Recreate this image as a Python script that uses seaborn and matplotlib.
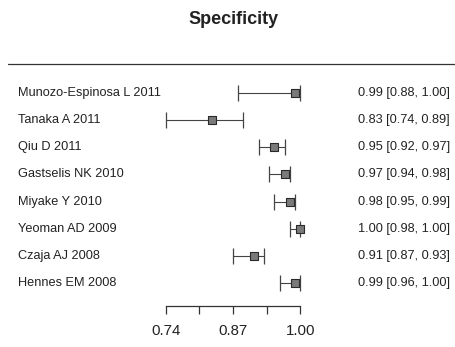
import matplotlib
matplotlib.use("Agg")
import matplotlib.pyplot as plt
import seaborn as sns
import pandas as pd
from matplotlib.lines import Line2D
import matplotlib.transforms as mtransforms

studies = ["Munozo-Espinosa L 2011", "Tanaka A 2011", "Qiu D 2011", "Gastselis NK 2010",
           "Miyake Y 2010", "Yeoman AD 2009", "Czaja AJ 2008", "Hennes EM 2008"]
spec = [0.99, 0.83, 0.95, 0.97, 0.98, 1.00, 0.91, 0.99]
lower = [0.88, 0.74, 0.92, 0.94, 0.95, 0.98, 0.87, 0.96]
upper = [1.00, 0.89, 0.97, 0.98, 0.99, 1.00, 0.93, 1.00]
tick_values = [0.74, 0.805, 0.87, 0.935, 1.00]
tick_labels = ["0.74", "", "0.87", "", "1.00"]
title = "Specificity"

sns.set_theme(style="white")
plt.rcParams["font.family"] = ["Liberation Sans", "DejaVu Sans"]

W, H = 455, 347
fig = plt.figure(figsize=(W / 100, H / 100), dpi=100)
fig.patch.set_facecolor("white")

left_px, right_px = 165.7, 300.3
top_px, bot_px = 64, 306
ax = fig.add_axes([left_px / W, 1 - bot_px / H, (right_px - left_px) / W, (bot_px - top_px) / H])
ax.set_facecolor("none")

df = pd.DataFrame({"study": studies, "spec": spec, "lower": lower, "upper": upper})
df["row"] = range(len(df))

ink = "#333333"
ax.errorbar(df["spec"], df["row"],
            xerr=[df["spec"] - df["lower"], df["upper"] - df["spec"]],
            fmt="none", ecolor="#444444", elinewidth=0.8, capsize=5.8, capthick=0.9,
            clip_on=False, zorder=2)
sns.scatterplot(data=df, x="spec", y="row", marker="s", s=26, color="#7a7a7a",
                edgecolor="#2a2a2a", linewidth=0.8, ax=ax, zorder=3, clip_on=False, legend=False)

spacing = 27.14
ax.set_ylim((bot_px - 93) / spacing, (top_px - 93) / spacing)
ax.set_xlim(0.74, 1.00)
ax.set_xticks(tick_values)
ax.set_xticklabels(tick_labels)
ax.set_yticks([])
ax.set_xlabel("")
ax.set_ylabel("")
for s in ["top", "left", "right"]:
    ax.spines[s].set_visible(False)
ax.spines["bottom"].set_color(ink)
ax.spines["bottom"].set_linewidth(0.9)
ax.tick_params(axis="x", direction="out", length=5.8, width=0.9, color=ink,
               labelsize=10.8, labelcolor="#222222", pad=7.5, bottom=True)

trans = mtransforms.blended_transform_factory(fig.transFigure, ax.transData)
for i, row in df.iterrows():
    ax.text(18 / W, row["row"], row["study"], transform=trans, ha="left", va="center",
            fontsize=9.2, color="#222222")
    ax.text(450 / W, row["row"],
            f"{row['spec']:.2f} [{row['lower']:.2f}, {row['upper']:.2f}]",
            transform=trans, ha="right", va="center", fontsize=9.2, color="#222222")

fig.lines.append(Line2D([8 / W, 1.0], [1 - top_px / H, 1 - top_px / H],
                        transform=fig.transFigure, color=ink, linewidth=0.9))
fig.text(234 / W, 1 - 19 / H, title, ha="center", va="center", fontsize=13,
         fontweight="bold", color="#222222")

fig.savefig("out.png", dpi=100)
